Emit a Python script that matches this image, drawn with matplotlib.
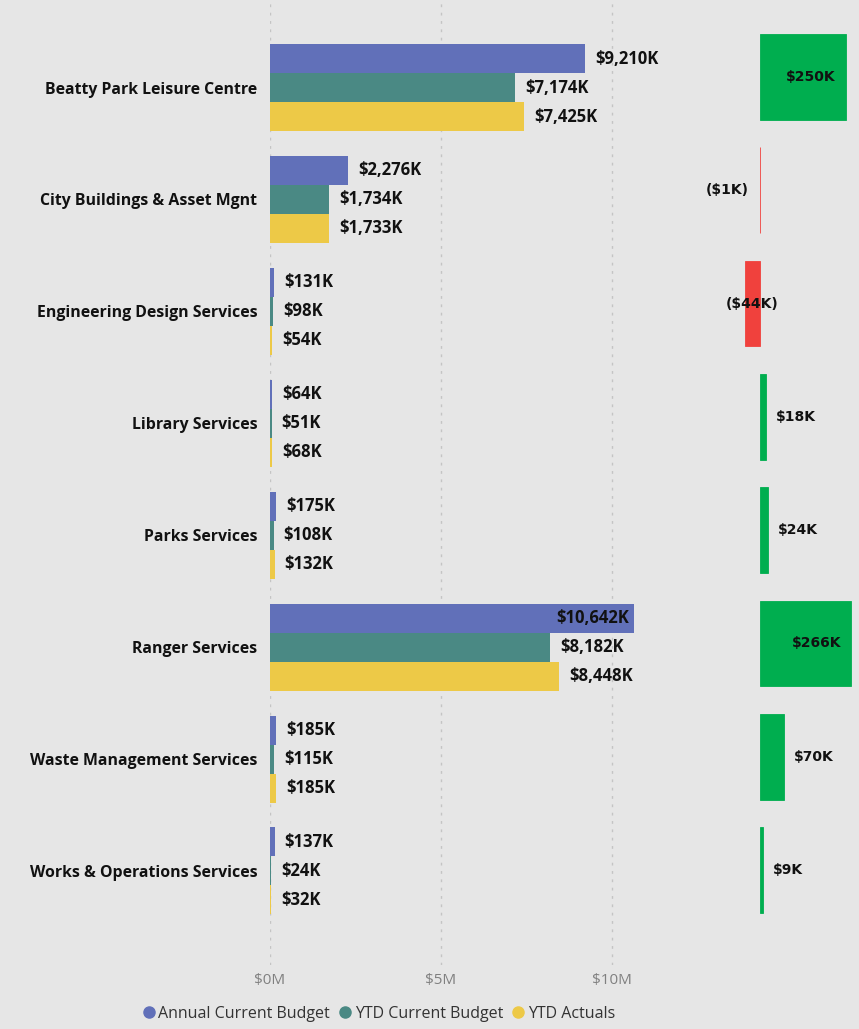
import matplotlib.pyplot as plt
from matplotlib.lines import Line2D

categories = ['Beatty Park Leisure Centre', 'City Buildings & Asset Mgnt',
              'Engineering Design Services', 'Library Services', 'Parks Services',
              'Ranger Services', 'Waste Management Services', 'Works & Operations Services']
# values in $K
annual_budget = [9210, 2276, 131, 64, 175, 10642, 185, 137]
ytd_budget = [7174, 1734, 98, 51, 108, 8182, 115, 24]
ytd_actuals = [7425, 1733, 54, 68, 132, 8448, 185, 32]
variance = [250, -1, -44, 18, 24, 266, 70, 9]
series_names = ['Annual Current Budget', 'YTD Current Budget', 'YTD Actuals']
tick_values = [0, 5000, 10000]
tick_labels = ['$0M', '$5M', '$10M']

BG = '#e6e6e6'
colors = ['#6170b9', '#4a8984', '#edc947']
GREEN = '#00ae4f'
RED = '#f0413d'
W, H = 859, 1029


def px_axes(fig, left, top, right, bottom):
    return fig.add_axes([left / W, 1 - bottom / H, (right - left) / W, (bottom - top) / H])


fig = plt.figure(figsize=(W / 100, H / 100), dpi=100, facecolor=BG)

# main grouped bar chart
ax = px_axes(fig, 270, 0, 650, 965)
ax.set_facecolor(BG)
n = len(categories)
bh = 0.259
lab_kw = dict(fontsize=12, fontweight='bold', family='Open Sans', color='#111111', va='center')
for i in range(n):
    vals = [annual_budget[i], ytd_budget[i], ytd_actuals[i]]
    for j, v in enumerate(vals):
        y = i + (j - 1) * bh
        ax.barh(y, v, height=bh, color=colors[j], zorder=2)
        if v > 10000:
            ax.annotate(f'${v:,}K', (v, y), xytext=(-5, 0), textcoords='offset pixels',
                        ha='right', **lab_kw)
        else:
            ax.annotate(f'${v:,}K', (v, y), xytext=(10, 0), textcoords='offset pixels',
                        ha='left', **lab_kw)
ax.set_xlim(0, 11111)
ax.set_ylim(7 + 94 / 111.9, -87.5 / 111.9)
for t in tick_values:
    ax.axvline(t, color='#c4c4c4', lw=1, ls=(0, (2, 4)), zorder=1)
ax.set_yticks(range(n))
ax.set_yticklabels(categories, fontsize=11.4, fontweight='bold', family='Open Sans', color='#111111')
ax.set_xticks(tick_values)
ax.set_xticklabels(tick_labels, fontsize=11, family='Open Sans', color='#808080')
ax.tick_params(length=0, axis='y', pad=9)
ax.tick_params(length=0, axis='x', pad=6)
for s in ax.spines.values():
    s.set_visible(False)

# variance panel
ax2 = px_axes(fig, 680, 0, 859, 965)
ax2.set_facecolor(BG)
vh = 0.758
for i, v in enumerate(variance):
    c = GREEN if v >= 0 else RED
    ax2.barh(i, v, height=vh, color=c, edgecolor=c, linewidth=0.6, zorder=2)
    lab = f'${v}K' if v >= 0 else f'(${-v}K)'
    kw = dict(fontsize=10, fontweight='bold', family='DejaVu Sans', color='#111111', va='center')
    if v >= 200:
        ax2.annotate(lab, (v, i), xytext=(-10, 0), textcoords='offset pixels', ha='right', **kw)
    elif v >= 0:
        ax2.annotate(lab, (v, i), xytext=(10, 0), textcoords='offset pixels', ha='left', **kw)
    elif v < -10:
        ax2.annotate(lab, (v / 2, i), ha='center', **kw)
    else:
        ax2.annotate(lab, (v, i), xytext=(-11, 0), textcoords='offset pixels', ha='right', **kw)
ax2.set_xlim(-80 / 0.343, 99 / 0.343)
ax2.set_ylim(7 + 95 / 113.4, -77 / 113.4)
ax2.axis('off')

# legend
handles = [Line2D([], [], marker='o', ls='', color=c, markersize=8) for c in colors]
fig.legend(handles, series_names, loc='center', bbox_to_anchor=(378 / W, 1 - 1014 / H),
           ncol=3, frameon=False, handlelength=1.0, handletextpad=0.1, columnspacing=0.45,
           prop={'family': 'Open Sans', 'size': 11.5}, labelcolor='#333333')

fig.savefig('out.png', dpi=100, facecolor=BG)
